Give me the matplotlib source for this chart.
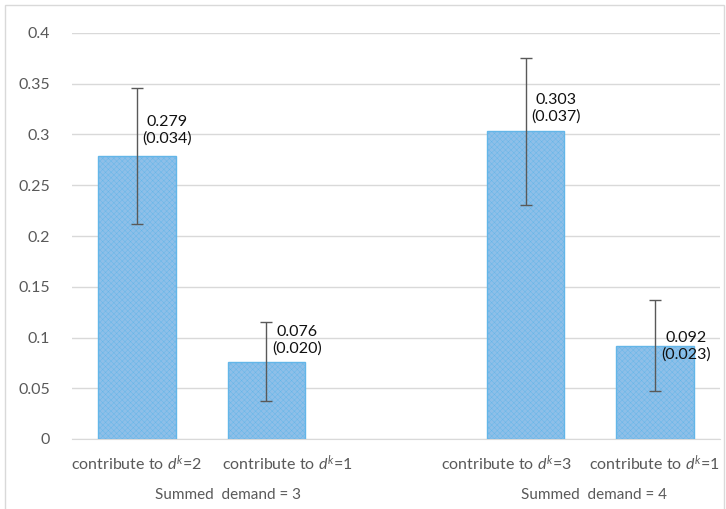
import numpy as np
import matplotlib
matplotlib.use("Agg")
import matplotlib.pyplot as plt
import matplotlib.transforms as mtransforms
from matplotlib.patches import Rectangle

plt.rcParams['font.family'] = ['Lato', 'DejaVu Sans']
plt.rcParams['mathtext.fontset'] = 'custom'
plt.rcParams['mathtext.rm'] = 'Lato'
plt.rcParams['mathtext.it'] = 'Lato:italic'
plt.rcParams['hatch.color'] = '#84b8e3'
plt.rcParams['hatch.linewidth'] = 0.3

# data
categories = [r"contribute to $d^k$=2", r"contribute to $d^k$=1", "",
              r"contribute to $d^k$=3", r"contribute to $d^k$=1"]
values = [0.279, 0.076, np.nan, 0.303, 0.092]
errors = [0.067, 0.039, np.nan, 0.072, 0.045]
std_err = ["0.034", "0.020", "", "0.037", "0.023"]
groups = ["Summed  demand = 3", "Summed  demand = 4"]

# layout: label offsets like Excel places them
label_dy = [0.025, 0.021, 0, 0.023, -0.001]
cat_label_dx = [0.0, 0.16, 0, -0.15, -0.01]
group_x = [0.7, 3.53]

fig = plt.figure(figsize=(7.26, 5.09), dpi=100)
ax = fig.add_axes([72/726, 70/509, 648/726, 406/509])

x = np.arange(len(categories))
ax.bar(x, values, width=0.6, color='#8ebfe8', edgecolor='#63b6e8',
       linewidth=1, hatch='xxxxxx', zorder=2)
ax.errorbar(x, values, yerr=errors, fmt='none', ecolor='#595959',
            elinewidth=1, capsize=4, capthick=1, zorder=3)

for i, v in enumerate(values):
    if np.isnan(v):
        continue
    ax.text(x[i] + 0.235, v + label_dy[i], f"{v:.3f}\n({std_err[i]})",
            ha='center', va='center', fontsize=11.5, color='#111111',
            linespacing=1.2, zorder=4)

ax.set_xlim(-0.5, len(categories) - 0.5)
ax.set_ylim(0, 0.4)
ax.set_yticks(np.arange(0, 0.401, 0.05))
ax.set_yticklabels(["0", "0.05", "0.1", "0.15", "0.2", "0.25", "0.3", "0.35", "0.4"])
ax.set_xticks([])
ax.tick_params(axis='both', length=0, labelcolor='#595959')
ax.tick_params(axis='y', pad=16, labelsize=11.5)
ax.grid(axis='y', color='#d9d9d9', linewidth=1, zorder=0)
for s in ['top', 'right', 'left']:
    ax.spines[s].set_visible(False)
ax.spines['bottom'].set_color('#d9d9d9')
ax.spines['bottom'].set_zorder(1)

trans = mtransforms.blended_transform_factory(ax.transData, ax.transAxes)
for i, c in enumerate(categories):
    if not c:
        continue
    ax.text(x[i] + cat_label_dx[i], -24/406, c, transform=trans,
            ha='center', va='center', fontsize=11.5, color='#595959')

for gx, g in zip(group_x, groups):
    ax.text(gx, -56/406, g, transform=trans, ha='center', va='center',
            fontsize=11, color='#595959')

fig.patches.append(Rectangle((5/726, -0.02), 719/726, 504/509 + 0.02,
                             transform=fig.transFigure, fill=False,
                             edgecolor='#d9d9d9', linewidth=1))

fig.savefig("out.png", dpi=100)
